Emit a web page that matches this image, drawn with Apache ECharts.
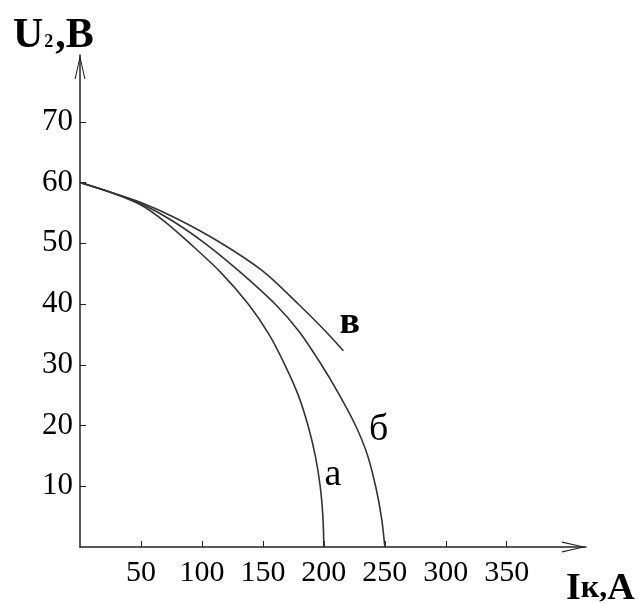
<!DOCTYPE html>
<html>
<head>
<meta charset="utf-8">
<script src="https://cdn.jsdelivr.net/npm/echarts@6/dist/echarts.min.js"></script>
<style>
  html, body { margin: 0; padding: 0; background: #fff; }
  #chart { width: 638px; height: 604px; }
</style>
</head>
<body>
<div id="chart"></div>
<script>
// curve a
const currentA = [0, 25, 50, 70, 90, 115, 138, 155, 168, 179, 187, 193, 197, 199.2, 200];
const voltageA = [60, 58.4, 56.3, 53.5, 50, 45.3, 40, 35, 30, 25, 20, 15, 10, 5, 0];
// curve б
const currentB = [0, 25, 50, 75, 102.5, 130, 160, 180, 198, 212, 226, 236, 243, 247.5, 250];
const voltageB = [60, 58.4, 56.5, 53.8, 50, 45.5, 40, 35.4, 30, 25.3, 20, 15, 9.5, 4.5, 0];
// curve в
const currentV = [0, 25, 50, 80, 116, 150, 179, 200, 216];
const voltageV = [60, 58.4, 56.7, 54, 50, 45.4, 40, 35.8, 32.3];

const curveNames = ['а', 'б', 'в'];
const curveLabelAt = [[207.4, 11.8], [245, 19.2], [221.3, 36.8]];

const xTicks = [50, 100, 150, 200, 250, 300, 350];
const yTicks = [10, 20, 30, 40, 50, 60, 70];

const serif = '"Liberation Serif", "DejaVu Serif", serif';
const arrow = 'path://M0,22 L5,0 L10,22 L9,22 L5,4 L1,22 Z';

function zip(xs, ys) {
    return xs.map(function (x, i) { return [x, ys[i]]; });
}

function curve(name, xs, ys, at, bold) {
    return {
        name: name,
        type: 'line',
        smooth: 0.3,
        symbol: 'none',
        animation: false,
        lineStyle: { color: '#333', width: 1.6 },
        data: zip(xs, ys),
        markPoint: {
            symbol: 'circle',
            symbolSize: 0,
            animation: false,
            label: {
                show: true,
                formatter: name,
                color: '#000',
                fontFamily: serif,
                fontSize: 38,
                fontWeight: bold ? 'bold' : 'normal'
            },
            data: [{ coord: at }]
        }
    };
}

option = {
    animation: false,
    title: [{
        text: '{u|U}{s|2}{u|,}{b|B}',
        left: 8,
        top: 10,
        textStyle: {
            rich: {
                u: { fontFamily: serif, fontSize: 42, color: '#000' },
                s: { fontFamily: serif, fontSize: 18, color: '#000', verticalAlign: 'bottom', padding: [0, 2, 6, 1] },
                b: { fontFamily: serif, fontSize: 42, fontWeight: 'bold', color: '#000' }
            }
        }
    }, {
        text: '{b|I}{u|к,}{b|A}',
        left: 561,
        top: 565,
        textStyle: {
            rich: {
                u: { fontFamily: serif, fontSize: 32, color: '#000' },
                b: { fontFamily: serif, fontSize: 38, fontWeight: 'bold', color: '#000' }
            }
        }
    }],
    grid: {
        left: 80,
        right: 52,
        top: 55,
        bottom: 57
    },
    xAxis: {
        type: 'value',
        min: 0,
        max: 415,
        interval: 50,
        axisLine: {
            onZero: false,
            lineStyle: { color: '#222', width: 1.5 },
            symbol: ['none', arrow],
            symbolSize: [11, 24],
            symbolOffset: [0, -12]
        },
        axisTick: { inside: true, length: 6, customValues: xTicks, lineStyle: { color: '#222' } },
        axisLabel: { customValues: xTicks, color: '#000', fontFamily: serif, fontSize: 30, margin: 11 },
        splitLine: { show: false }
    },
    yAxis: {
        type: 'value',
        min: 0,
        max: 81,
        interval: 10,
        axisLine: {
            show: true,
            onZero: false,
            lineStyle: { color: '#222', width: 1.5 },
            symbol: ['none', arrow],
            symbolSize: [11, 24],
            symbolOffset: [0, -12]
        },
        axisTick: { show: true, inside: true, length: 6, customValues: yTicks, lineStyle: { color: '#222' } },
        axisLabel: { customValues: yTicks, color: '#000', fontFamily: serif, fontSize: 31, margin: 7 },
        splitLine: { show: false }
    },
    series: [
        curve(curveNames[0], currentA, voltageA, curveLabelAt[0], false),
        curve(curveNames[1], currentB, voltageB, curveLabelAt[1], false),
        curve(curveNames[2], currentV, voltageV, curveLabelAt[2], true)
    ]
};

echarts.init(document.getElementById('chart')).setOption(option);
</script>
</body>
</html>
